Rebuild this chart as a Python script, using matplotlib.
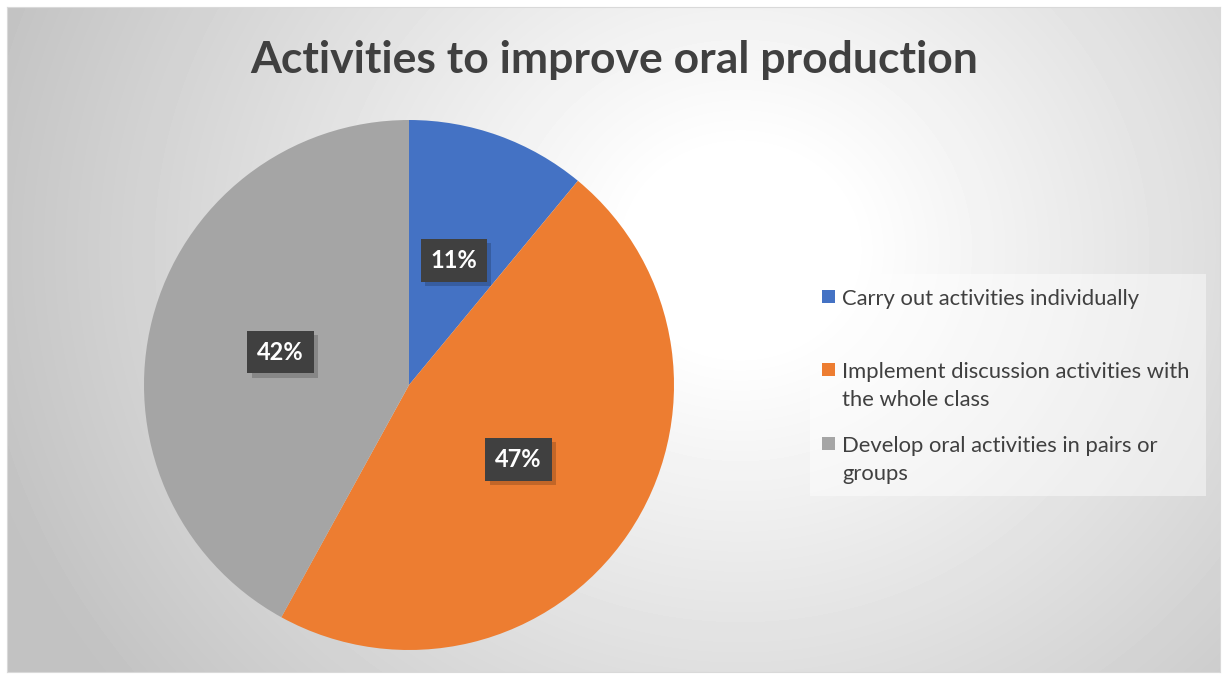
"""Pie chart: activities to improve oral production."""

import numpy as np
import matplotlib
matplotlib.use("Agg")
import matplotlib.pyplot as plt
import matplotlib.patheffects as pe
from matplotlib.patches import Rectangle

categories = [
    "Carry out activities individually",
    "Implement discussion activities with\nthe whole class",
    "Develop oral activities in pairs or\ngroups",
]
shares = [11, 47, 42]
colors = ["#4472C4", "#ED7D31", "#A5A5A5"]
title = "Activities to improve oral production"

W, H = 1223, 675
fig = plt.figure(figsize=(W / 100, H / 100), dpi=100)
fig.patch.set_facecolor("white")

# chart area with a radial grey gradient
x0, y0, x1, y1 = 7, 7, 1220, 672
bg = fig.add_axes([x0 / W, 1 - y1 / H, (x1 - x0) / W, (y1 - y0) / H])
yy, xx = np.mgrid[y0:y1, x0:x1]
d = np.hypot(xx - 740, (yy - 250) * 1.1)
g = 1 - 0.24 * np.clip((d - 110) / 680, 0, 1)
bg.imshow(g, cmap="gray", vmin=0, vmax=1, aspect="auto", interpolation="bilinear")
bg.set_xticks([])
bg.set_yticks([])
for s in bg.spines.values():
    s.set_color("#d9d9d9")
    s.set_linewidth(0.8)

fig.text(614 / W, 1 - 60 / H, title, ha="center", va="center",
         fontsize=32, fontweight="bold", color="#404040", family="Lato")

# pie
cx, cy, r = 409, 385, 265
ax = fig.add_axes([(cx - r) / W, 1 - (cy + r) / H, 2 * r / W, 2 * r / H])
ax.pie(shares, colors=colors, startangle=90, counterclock=False,
       radius=1, wedgeprops=dict(linewidth=0))
ax.set_xlim(-1, 1)
ax.set_ylim(-1, 1)
ax.axis("off")

total = sum(shares)
start = 90.0
for v in shares:
    ang = np.deg2rad(start - 360 * v / total / 2)
    start -= 360 * v / total
    px, py = 0.5 * np.cos(ang), 0.5 * np.sin(ang)
    t = ax.text(px, py, f"{round(100 * v / total)}%", ha="center", va="center",
                fontsize=17, fontweight="bold", family="Lato", color="white",
                bbox=dict(boxstyle="square,pad=0.42", fc="#404040", ec="none"))
    t.get_bbox_patch().set_path_effects([
        pe.SimplePatchShadow(offset=(3, -3), shadow_rgbFace="black", alpha=0.18),
        pe.Normal(),
    ])

# legend drawn by hand so markers sit on the first text line
lx0, ly0, lx1, ly1 = 810, 274, 1206, 496
fig.patches.append(Rectangle((lx0 / W, 1 - ly1 / H), (lx1 - lx0) / W, (ly1 - ly0) / H,
                             transform=fig.transFigure, fc="white", alpha=0.45,
                             ec="none", zorder=1))
rows = [297, 370, 444]
for lab, col, ry in zip(categories, colors, rows):
    fig.patches.append(Rectangle((822 / W, 1 - (ry + 6) / H), 13 / W, 13 / H,
                                 transform=fig.transFigure, fc=col, ec="none", zorder=2))
    fig.text(842 / W, 1 - (ry - 8) / H, lab, ha="left", va="top", fontsize=15.8,
             color="#404040", family="Lato", linespacing=1.5, zorder=3)

fig.savefig("out.png", dpi=100)
